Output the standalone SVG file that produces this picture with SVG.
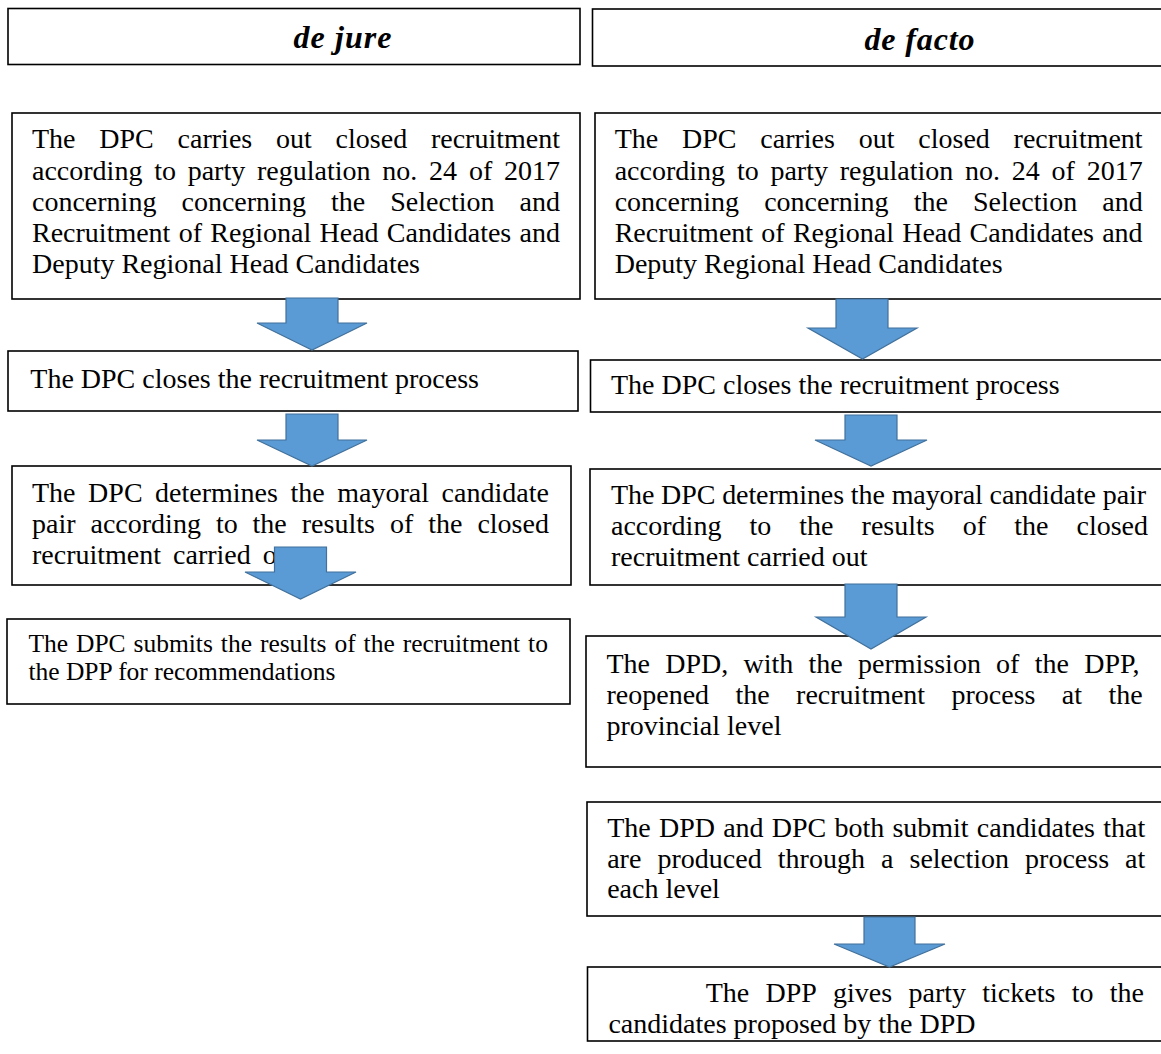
<svg xmlns="http://www.w3.org/2000/svg" width="1161" height="1054" viewBox="0 0 1161 1054">
<style>
.box{fill:#fff;stroke:#000;stroke-width:1.6}
.t{font-family:"Liberation Serif","Times New Roman",serif;font-size:28px;fill:#000}
.s{font-size:25.5px}
.h{font-family:"Liberation Serif","Times New Roman",serif;font-size:32px;font-weight:bold;font-style:italic;fill:#000;text-anchor:middle}
.arr{fill:#5B9BD5;stroke:#41719C;stroke-width:1.2;stroke-linejoin:miter}
</style>
<rect width="1161" height="1054" fill="#fff"/>

<g id="header-dejure">
<rect class="box" x="8" y="8.5" width="572" height="56"/>
<text class="h" x="342.5" y="48" textLength="98" lengthAdjust="spacing">de jure</text>
</g>
<g id="header-defacto">
<rect class="box" x="592.5" y="9" width="580" height="57"/>
<text class="h" x="919.5" y="50" textLength="110" lengthAdjust="spacing">de facto</text>
</g>

<g id="l1">
<rect class="box" x="12" y="113" width="568" height="186"/>
<text class="t" y="148"><tspan x="32">The</tspan> <tspan x="99.3">DPC</tspan> <tspan x="177.6">carries</tspan> <tspan x="276">out</tspan> <tspan x="335.6">closed</tspan> <tspan x="430.9">recruitment</tspan></text>
<text class="t" y="180"><tspan x="32">according</tspan> <tspan x="154.2">to</tspan> <tspan x="187.7">party</tspan> <tspan x="257">regulation</tspan> <tspan x="382.3">no.</tspan> <tspan x="429.1">24</tspan> <tspan x="468.9">of</tspan> <tspan x="504">2017</tspan></text>
<text class="t" y="211"><tspan x="32">concerning</tspan> <tspan x="181.5">concerning</tspan> <tspan x="331">the</tspan> <tspan x="390.3">Selection</tspan> <tspan x="519.6">and</tspan></text>
<text class="t" x="32" y="242" word-spacing="1.24">Recruitment of Regional Head Candidates and</text>
<text class="t" x="32" y="273">Deputy Regional Head Candidates</text>
</g>

<g id="l2">
<rect class="box" x="8" y="351" width="570" height="60"/>
<text class="t" x="30.3" y="388">The DPC closes the recruitment process</text>
</g>

<g id="l3">
<rect class="box" x="12" y="466" width="559" height="119"/>
<text class="t" y="502"><tspan x="32">The</tspan> <tspan x="88.1">DPC</tspan> <tspan x="155.1">determines</tspan> <tspan x="290.5">the</tspan> <tspan x="337.3">mayoral</tspan> <tspan x="441.6">candidate</tspan></text>
<text class="t" y="533"><tspan x="32">pair</tspan> <tspan x="90.5">according</tspan> <tspan x="215.9">to</tspan> <tspan x="252.6">the</tspan> <tspan x="301.8">results</tspan> <tspan x="389.9">of</tspan> <tspan x="428.2">the</tspan> <tspan x="477.4">closed</tspan></text>
<text class="t" x="32" y="564" word-spacing="5">recruitment carried out</text>
</g>

<g id="l4">
<rect class="box" x="7" y="619" width="563" height="85"/>
<text class="t s" x="28.4" y="652" word-spacing="1.56">The DPC submits the results of the recruitment to</text>
<text class="t s" x="28.4" y="680">the DPP for recommendations</text>
</g>

<g id="r1">
<rect class="box" x="595" y="113" width="580" height="186"/>
<text class="t" y="148"><tspan x="614.7">The</tspan> <tspan x="682">DPC</tspan> <tspan x="760.3">carries</tspan> <tspan x="858.7">out</tspan> <tspan x="918.3">closed</tspan> <tspan x="1013.6">recruitment</tspan></text>
<text class="t" y="180"><tspan x="614.7">according</tspan> <tspan x="736.9">to</tspan> <tspan x="770.4">party</tspan> <tspan x="839.7">regulation</tspan> <tspan x="965">no.</tspan> <tspan x="1011.8">24</tspan> <tspan x="1051.6">of</tspan> <tspan x="1086.7">2017</tspan></text>
<text class="t" y="211"><tspan x="614.7">concerning</tspan> <tspan x="764.2">concerning</tspan> <tspan x="913.7">the</tspan> <tspan x="973">Selection</tspan> <tspan x="1102.3">and</tspan></text>
<text class="t" x="614.7" y="242" word-spacing="1.24">Recruitment of Regional Head Candidates and</text>
<text class="t" x="614.7" y="273">Deputy Regional Head Candidates</text>
</g>

<g id="r2">
<rect class="box" x="590.5" y="360" width="585" height="52"/>
<text class="t" x="611" y="394">The DPC closes the recruitment process</text>
</g>

<g id="r3">
<rect class="box" x="590" y="469" width="585" height="116"/>
<text class="t" x="611" y="504" textLength="535" lengthAdjust="spacing">The DPC determines the mayoral candidate pair</text>
<text class="t" y="535"><tspan x="611">according</tspan> <tspan x="749.5">to</tspan> <tspan x="799.3">the</tspan> <tspan x="861.6">results</tspan> <tspan x="962.8">of</tspan> <tspan x="1014.2">the</tspan> <tspan x="1076.5">closed</tspan></text>
<text class="t" x="611" y="566">recruitment carried out</text>
</g>

<g id="r4">
<rect class="box" x="586" y="636" width="590" height="131"/>
<text class="t" y="673"><tspan x="606.5">The</tspan> <tspan x="665.3">DPD,</tspan> <tspan x="743.5">with</tspan> <tspan x="808.5">the</tspan> <tspan x="858">permission</tspan> <tspan x="996.1">of</tspan> <tspan x="1034.7">the</tspan> <tspan x="1084.2">DPP,</tspan></text>
<text class="t" y="704"><tspan x="606.5">reopened</tspan> <tspan x="735.5">the</tspan> <tspan x="796.1">recruitment</tspan> <tspan x="951.5">process</tspan> <tspan x="1061.8">at</tspan> <tspan x="1108.4">the</tspan></text>
<text class="t" x="606.5" y="735">provincial level</text>
</g>

<g id="r5">
<rect class="box" x="587" y="802" width="590" height="114"/>
<text class="t" x="607.2" y="837" word-spacing="1.2">The DPD and DPC both submit candidates that</text>
<text class="t" y="868"><tspan x="607.2">are</tspan> <tspan x="657.5">produced</tspan> <tspan x="777.8">through</tspan> <tspan x="881">a</tspan> <tspan x="909.5">selection</tspan> <tspan x="1025.1">process</tspan> <tspan x="1125.1">at</tspan></text>
<text class="t" x="607.2" y="898">each level</text>
</g>

<g id="r6">
<rect class="box" x="587.5" y="967" width="590" height="74"/>
<text class="t" y="1002"><tspan x="705.7">The</tspan> <tspan x="765.5">DPP</tspan> <tspan x="833.1">gives</tspan> <tspan x="908.5">party</tspan> <tspan x="982.3">tickets</tspan> <tspan x="1071.7">to</tspan> <tspan x="1109.8">the</tspan></text>
<text class="t" x="608.4" y="1033">candidates proposed by the DPD</text>
</g>

<g id="connectors">
<polygon class="arr" points="286,298 338,298 338,323 367,323 312,350 257,323 286,323"/>
<polygon class="arr" points="286,414 338,414 338,440 367,440 312,466 257,440 286,440"/>
<polygon class="arr" points="274.5,547 326.5,547 326.5,572 356,572 300.5,599 245,572 274.5,572"/>
<polygon class="arr" points="836,299 888,299 888,328 917,328 862.5,359 808,328 836,328"/>
<polygon class="arr" points="845,415 897,415 897,440 927,440 871,466 815,440 845,440"/>
<polygon class="arr" points="845,584 897,584 897,617 926,617 871,649 816,617 845,617"/>
<polygon class="arr" points="864,917 915,917 915,944 945,944 889.5,967 834,944 864,944"/>
</g>
</svg>
